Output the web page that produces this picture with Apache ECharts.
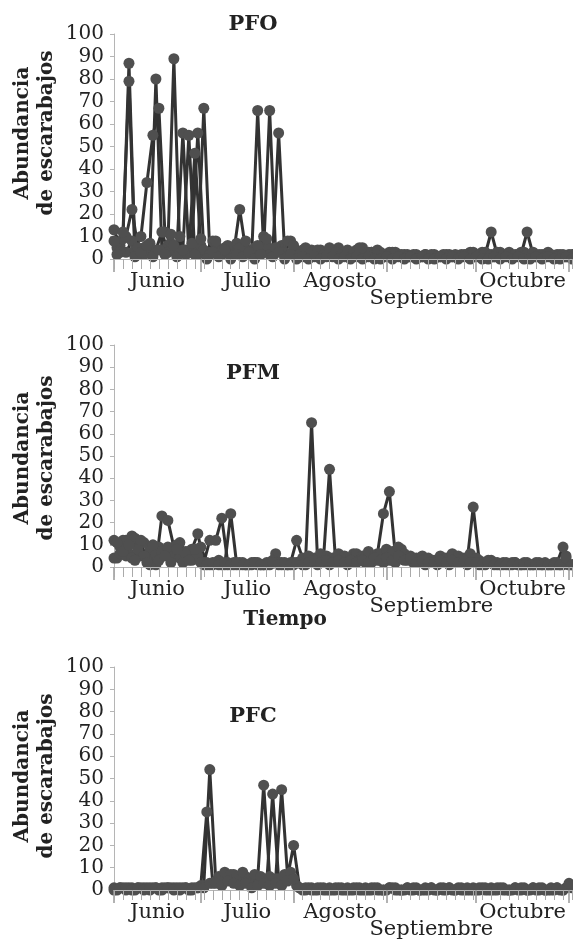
<!DOCTYPE html>
<html>
<head>
<meta charset="utf-8">
<script src="https://cdn.jsdelivr.net/npm/echarts@6/dist/echarts.min.js"></script>
<style>
  html, body { margin: 0; padding: 0; background: #fff; }
  #contain { width: 573px; height: 947px; }
</style>
</head>
<body>
<div id="contain"></div>
<script>
// dias de muestreo (0 = 2 de junio)
var DAYS_EVEN = [0,2,4,6,8,10,12,14,16,18,20,22,24,26,28,30,32,34,36,38,40,42,44,46,48,50,52,54,56,58,
  60,62,64,66,68,70,72,74,76,78,80,82,84,86,88,90,92,94,96,98,100,102,104,106,108,110,112,114,116,118,
  120,122,124,126,128,130,132,134,136,138,140,142,144,146,148,150,152];
var DAYS_ODD = [1,3,5,7,9,11,13,15,17,19,21,23,25,27,29,31,33,35,37,39,41,43,45,47,49,51,53,55,57,59,
  61,63,65,67,69,71,73,75,77,79,81,83,85,87,89,91,93,95,97,99,101,103,105,107,109,111,113,115,117,119,
  121,123,125,127,129,131,133,135,137,139,141,143,145,147,149,151,153];

var MONTHS = ["Junio", "Julio", "Agosto", "Septiembre", "Octubre"];
var MONTH_MID = [14.5, 44.5, 75.5, 106, 136.5];
var STAGGERED = ["Septiembre"];
var MONTH_EDGES = [0, 29, 60, 91, 121, 152];
var Y_TICKS = [0, 10, 20, 30, 40, 50, 60, 70, 80, 90, 100];

/*PFO*/
var PFO_A = [13,6,3,8,2,5,3,80,4,6, 89,3,4,5,2,67,3,6,2,5, 3,22,4,2,66,4,66,3,6,2,
  5,3,2,4,2,3,4,2,3,2, 3,4,2,3,2,2,3,2,1,2, 1,1,2,1,1,1,2,1,2,2, 2,1,2,12,2,1,2,1,2,12, 2,1,2,1,2,1,2];
var PFO_B = [5,9,87,4,10,34,55,67,12,7, 4,56,3,47,6,2,8,3,5,2, 7,4,3,5,3,6,2,56,3,8,
  3,4,3,2,4,3,2,5,3,2, 4,5,3,2,3,2,3,2,2,1, 2,1,1,2,1,2,1,1,2,3, 2,3,2,1,3,2,1,2,3,2, 1,2,3,1,2,1,2];
var PFO_C = [8,3,10,22,5,2,7,4,12,3, 6,10,2,7,56,4,2,8,3,6, 2,5,8,3,6,10,2,5,3,8,
  6,2,5,3,4,2,5,3,2,4, 3,5,2,3,4,2,2,3,2,1, 2,1,2,2,1,2,1,2,1,2, 3,2,3,2,3,2,3,2,3,2, 3,2,1,2,1,2,1];
var PFO_D = [2,12,79,1,3,6,1,4,2,11, 1,4,55,2,9,0,3,1,4,0, 2,1,3,0,2,9,1,3,0,2,
  0,1,0,1,0,1,1,0,1,0, 1,0,1,0,0,1,0,1,0,1, 0,1,0,0,1,0,1,0,1,0, 1,0,0,1,0,1,0,1,0,0, 1,0,1,0,0,1,0];

/*PFM*/
var PFM_A = [12,9,12,14,10,11,8,1,23,21, 9,11,7,8,15,2,12,12,22,2, 1,2,1,1,2,1,2,6,2,1,
  2,2,3,65,3,4,44,3,5,4, 6,4,5,4,6,24,34,5,8,4, 3,4,3,2,3,4,3,5,4,3, 27,3,2,3,2,2,1,2,1,2, 1,2,1,1,2,9,1];
var PFM_B = [4,12,6,13,5,4,3,9,7,6, 10,5,7,4,9,2,1,3,1,24, 1,2,1,2,1,2,3,2,1,2,
  12,4,5,4,6,5,4,6,5,4, 6,5,7,5,6,8,7,9,6,5, 4,5,4,3,5,4,6,5,4,6, 4,2,3,2,1,2,2,1,2,1, 2,1,1,2,1,5,1];
var PFM_C = [4,6,5,4,8,5,1,6,7,9, 5,4,6,3,5,1,1,2,1,1, 2,1,1,2,1,1,1,2,1,1,
  1,2,1,2,1,2,1,2,2,1, 2,3,2,2,3,2,3,2,4,3, 2,2,1,2,1,2,1,2,2,1, 2,1,1,2,1,1,1,2,1,1, 1,1,2,1,1,1,1];
var PFM_D = [11,7,10,3,12,2,10,3,5,2, 8,2,3,8,2,1,2,1,2,1, 2,1,1,2,1,1,2,1,2,1,
  2,1,2,3,2,3,2,3,2,3, 2,3,2,4,3,4,3,5,3,4, 2,3,2,2,3,2,3,2,3,2, 2,1,2,1,1,1,1,1,1,1, 1,1,1,1,1,4,1];

/*PFC*/
var PFC_A = [1,1,0,1,1,1,0,1,1,1, 1,0,1,1,1,2,54,4,5,6, 7,5,6,4,5,47,6,5,45,6,
  20,1,0,1,0,0,1,0,0,1, 0,0,1,0,0,0,1,0,0,1, 0,0,0,1,0,0,1,0,0,0, 1,0,0,1,0,0,0,1,0,0, 1,0,0,0,1,0,2];
var PFC_B = [0,1,1,0,1,1,1,0,1,1, 1,1,0,1,2,35,3,6,8,7, 6,8,5,7,6,3,43,5,7,8,
  2,0,1,0,1,0,0,1,0,0, 1,0,0,1,0,0,1,0,0,0, 1,0,0,0,1,0,0,1,0,0, 0,1,0,0,1,0,0,0,1,0, 0,1,0,0,0,1,1];
var PFC_C = [0,1,1,0,1,0,1,1,0,1, 0,1,1,0,1,1,3,3,2,4, 3,2,3,1,2,3,2,3,2,4,
  5,1,1,0,1,1,0,1,1,0, 1,1,0,1,1,0,1,1,0,1, 1,0,1,1,0,1,1,0,1,1, 0,1,1,0,1,1,0,1,1,0, 1,1,0,1,1,0,3];

var FONT = '"DejaVu Serif", "Liberation Serif", serif';
var TEXT_COLOR = '#222';
var AXIS_COLOR = '#b5b5b5';

var panels = [
    {top: 34, height: 225, title: 'PFO', titleY: 25, nameY: 133, series: [[DAYS_EVEN, PFO_A], [DAYS_ODD, PFO_B], [DAYS_EVEN, PFO_C], [DAYS_ODD, PFO_D]]},
    {top: 345, height: 222, title: 'PFM', titleY: 374, nameY: 458, series: [[DAYS_EVEN, PFM_A], [DAYS_ODD, PFM_B], [DAYS_EVEN, PFM_C], [DAYS_ODD, PFM_D]]},
    {top: 667, height: 223, title: 'PFC', titleY: 717, nameY: 776, series: [[DAYS_EVEN, PFC_A], [DAYS_ODD, PFC_B], [DAYS_EVEN, PFC_C]]}
];

/**
 * pares [dia, valor]
 */
function toPairs(days, vals) {
    var out = [];
    for (var i = 0; i < days.length; i++) {
        out.push([days[i], vals[i]]);
    }
    return out;
}

function monthName(value) {
    for (var i = 0; i < MONTH_MID.length; i++) {
        if (Math.abs(MONTH_MID[i] - value) < 0.01) {
            return MONTHS[i];
        }
    }
    return '';
}

// meses en la fila de arriba / en la fila escalonada
var midTop = [], midLow = [];
for (var m = 0; m < MONTHS.length; m++) {
    if (STAGGERED.indexOf(MONTHS[m]) >= 0) {
        midLow.push(MONTH_MID[m]);
    } else {
        midTop.push(MONTH_MID[m]);
    }
}

var grids = [], xAxes = [], yAxes = [], series = [], graphics = [];

panels.forEach(function (p, g) {
    grids.push({left: 114, width: 458, top: p.top, height: p.height});
    // eje principal: ticks de mes y etiquetas
    xAxes.push({
        type: 'value', gridIndex: g, min: 0, max: 153, position: 'bottom', z: 5,
        splitLine: {show: false},
        axisLine: {show: true, onZero: false, lineStyle: {color: AXIS_COLOR, width: 1}},
        axisTick: {show: true, inside: false, length: 13, customValues: MONTH_EDGES, lineStyle: {color: '#999', width: 1.5}},
        axisLabel: {
            show: true, customValues: midTop, margin: 12, hideOverlap: false,
            fontFamily: FONT, fontSize: 21, color: TEXT_COLOR,
            formatter: monthName
        }
    });
    // ticks menores + fila escalonada
    xAxes.push({
        type: 'value', gridIndex: g, min: 0, max: 153, interval: 3, position: 'bottom', z: 5,
        splitLine: {show: false},
        axisLine: {show: true, onZero: false, lineStyle: {color: AXIS_COLOR, width: 1}},
        axisTick: {show: true, inside: false, length: 10, lineStyle: {color: '#aaa', width: 1}},
        axisLabel: {
            show: true, customValues: midLow, margin: 29, hideOverlap: false,
            fontFamily: FONT, fontSize: 21, color: TEXT_COLOR,
            formatter: monthName
        }
    });
    yAxes.push({
        type: 'value', gridIndex: g, min: 0, max: 100, interval: 10,
        splitLine: {show: false},
        axisLine: {show: true, lineStyle: {color: AXIS_COLOR, width: 1}},
        axisTick: {show: true, length: 4, lineStyle: {color: AXIS_COLOR}},
        axisLabel: {
            margin: 10, fontFamily: FONT, fontSize: 20, color: TEXT_COLOR,
            formatter: function (v) { return Y_TICKS.indexOf(v) >= 0 ? String(v) : ''; }
        }
    });
    p.series.forEach(function (s) {
        series.push({
            type: 'line', xAxisIndex: g * 2, yAxisIndex: g,
            data: toPairs(s[0], s[1]),
            symbol: 'circle', symbolSize: 11, showSymbol: true,
            clip: false, animation: false, silent: true,
            lineStyle: {color: '#333', width: 3},
            itemStyle: {color: '#4f4f4f'}
        });
    });
    graphics.push({
        type: 'text', x: 253, y: p.titleY,
        style: {text: p.title, font: 'bold 21px ' + FONT, fill: '#222', align: 'center', verticalAlign: 'middle'}
    });
    graphics.push({
        type: 'text', x: 35, y: p.nameY, rotation: Math.PI / 2,
        style: {text: 'Abundancia\nde escarabajos', font: 'bold 20px ' + FONT, fill: '#222',
            align: 'center', verticalAlign: 'middle', lineHeight: 24}
    });
});

graphics.push({
    type: 'text', x: 285, y: 620,
    style: {text: 'Tiempo', font: 'bold 20px ' + FONT, fill: '#222', align: 'center', verticalAlign: 'middle'}
});

var myChart = echarts.init(document.getElementById('contain'));
myChart.setOption({
    animation: false,
    backgroundColor: '#fff',
    grid: grids,
    xAxis: xAxes,
    yAxis: yAxes,
    series: series,
    graphic: graphics
});
</script>
</body>
</html>
